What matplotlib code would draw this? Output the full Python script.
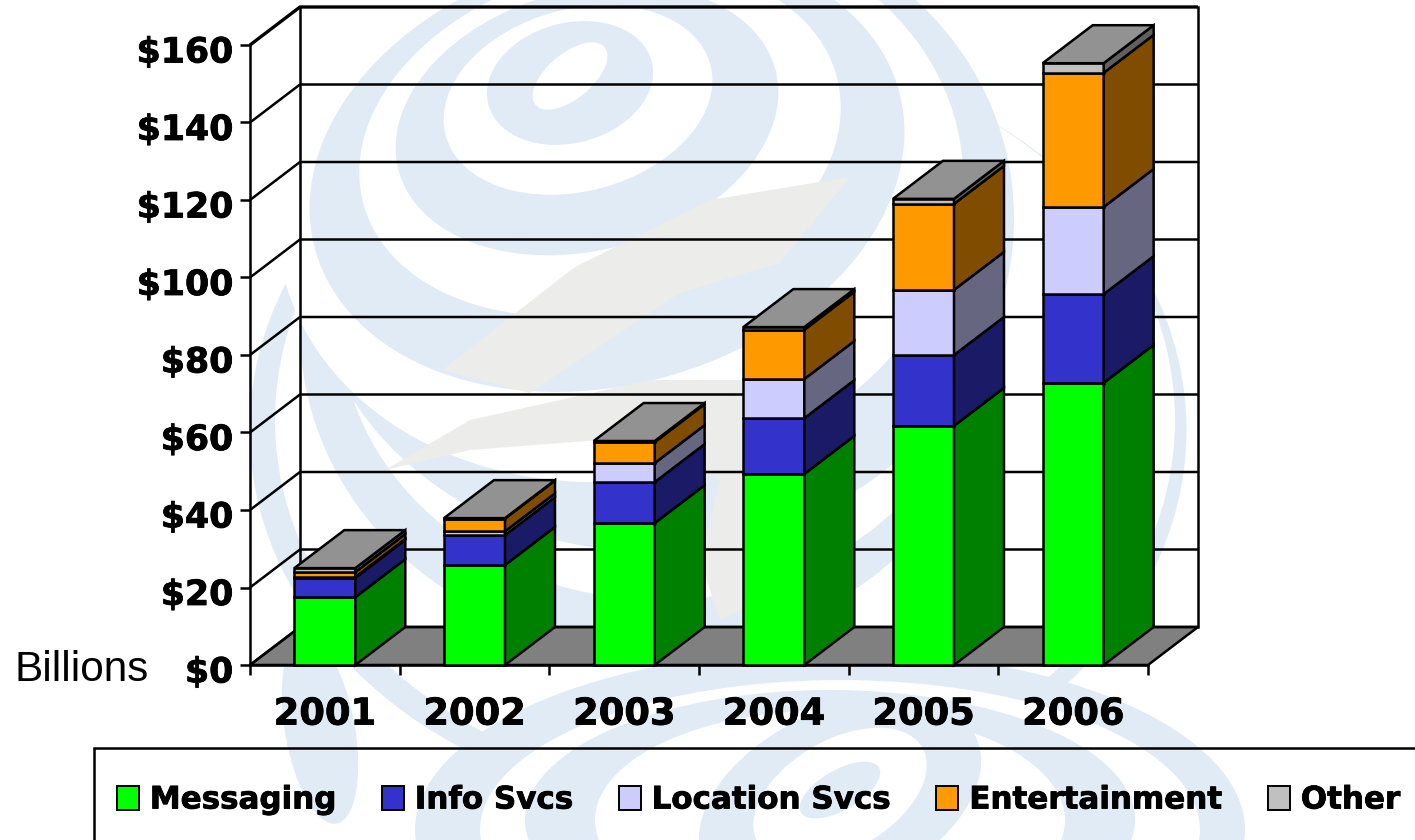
import numpy as np
import matplotlib
matplotlib.use("Agg")
import matplotlib.pyplot as plt
import matplotlib.patheffects as pe
from matplotlib.patches import Ellipse, Polygon, Rectangle
from matplotlib.transforms import ScaledTranslation

# Data ($ billions per layer)
years = ['2001', '2002', '2003', '2004', '2005', '2006']
messaging = [17.5, 25.8, 36.6, 49.3, 61.7, 72.8]
info_svcs = [5.0, 7.7, 10.6, 14.4, 18.3, 22.9]
location_svcs = [0.2, 1.0, 4.9, 10.1, 16.8, 22.5]
entertainment = [1.3, 3.3, 5.4, 12.7, 22.2, 34.6]
other = [1.0, 0.1, 0.3, 0.7, 1.3, 2.5]
series_names = ['Messaging', 'Info Svcs', 'Location Svcs', 'Entertainment', 'Other']
yticks = [0, 20, 40, 60, 80, 100, 120, 140, 160]

front_cols = ['#00FF00', '#3333CC', '#CCCCFF', '#FF9900', '#C0C0C0']
side_cols = ['#008000', '#1A1A66', '#666680', '#804D00', '#606060']
top_col = '#929292'
floor_col = '#808080'
wash = '#E1EBF6'
wash_gray = '#ECECEA'

W, H = 1415, 840
DEPTH_X = 50 / 149.7   # category units
DEPTH_Y = 38 / 3.875   # dollars
BAR_W = 61 / 149.7
LW = 1.8
heavy = [pe.withStroke(linewidth=0.6, foreground='black')]

fig = plt.figure(figsize=(W / 100, H / 100), dpi=100)

# watermark behind the chart, in pixel coordinates
bg = fig.add_axes([0, 0, 1, 1], zorder=0)
bg.set_xlim(0, W)
bg.set_ylim(H, 0)
bg.axis('off')
lower_swirl = [
    (320, 730, 70, 190, 10, wash),
    (830, 830, 830, 360, 0, wash),
    (840, 830, 720, 300, 0, 'white'),
    (830, 820, 610, 260, 0, wash),
    (830, 820, 470, 220, 0, 'white'),
    (840, 800, 300, 180, 25, wash),
    (840, 795, 190, 110, 30, 'white'),
    (840, 790, 90, 40, 30, wash),
]
upper_swirl = [
    (718, 430, 937, 760, 0, wash),
    (725, 420, 900, 740, 0, 'white'),
    (650, 330, 700, 640, 0, wash),
    (660, 320, 640, 560, 0, 'white'),
    (660, 230, 710, 640, 10, wash),
    (620, 200, 690, 560, 10, 'white'),
    (607, 170, 605, 430, 15, wash),
    (600, 140, 490, 340, 15, 'white'),
    (587, 120, 390, 260, 15, wash),
    (578, 100, 274, 182, 15, 'white'),
    (570, 83, 169, 120, 15, wash),
    (570, 76, 90, 45, 40, 'white'),
]
for cx, cy, w, h, ang, col in upper_swirl[:2] + lower_swirl + upper_swirl[2:]:
    bg.add_patch(Ellipse((cx, cy), w, h, angle=-ang, fc=col, ec='none'))
bg.add_patch(Polygon([(442, 370), (575, 267), (710, 200), (850, 177), (780, 263),
                      (680, 293), (530, 393)], fc=wash_gray, ec='none'))
bg.add_patch(Polygon([(385, 470), (470, 420), (650, 380), (740, 380), (850, 420), (850, 560),
                      (720, 620), (700, 560), (720, 480), (600, 440), (470, 450)],
                     fc=wash_gray, ec='none'))
bg.plot([94, 94, W], [H, 748, 748], color='black', lw=1.8, solid_joinstyle='miter')

# main axes = front plane of the 3D box
ax = fig.add_axes([250 / W, 1 - 665 / H, 898 / W, 620 / H], zorder=1)
ax.patch.set_visible(False)
ax.set_xlim(-0.5, 5.5)
ax.set_ylim(0, 160)
for s in ['top', 'right']:
    ax.spines[s].set_visible(False)
for s in ['left', 'bottom']:
    ax.spines[s].set_linewidth(LW)
    ax.spines[s].set_zorder(2.5)

# walls and floor
x0, x1 = -0.5, 5.5
ax.add_patch(Polygon([(x0, 0), (x0 + DEPTH_X, DEPTH_Y), (x1 + DEPTH_X, DEPTH_Y), (x1, 0)],
                     fc=floor_col, ec='black', lw=LW, clip_on=False, zorder=1))
for v in yticks:
    ax.plot([x0, x0 + DEPTH_X, x1 + DEPTH_X], [v, v + DEPTH_Y, v + DEPTH_Y], color='black',
            lw=2.4 if v == 160 else LW, clip_on=False, zorder=1.2, solid_capstyle='butt')
ax.plot([x0 + DEPTH_X] * 2, [DEPTH_Y, 160 + DEPTH_Y], color='black', lw=LW, clip_on=False, zorder=1.2)
ax.plot([x1 + DEPTH_X] * 2, [DEPTH_Y, 160 + DEPTH_Y], color='black', lw=LW, clip_on=False, zorder=1.2)

# stacked 3D bars
layers = np.array([messaging, info_svcs, location_svcs, entertainment, other])
tops = layers.cumsum(axis=0)
bottoms = tops - layers
xs = np.arange(len(years))
for k in range(len(series_names)):
    ax.bar(xs, layers[k], BAR_W, bottom=bottoms[k], color=front_cols[k], edgecolor='black',
           linewidth=LW, zorder=3, clip_on=False)
    for i in xs:
        r = i + BAR_W / 2
        ax.add_patch(Polygon([(r, bottoms[k][i]), (r + DEPTH_X, bottoms[k][i] + DEPTH_Y),
                              (r + DEPTH_X, tops[k][i] + DEPTH_Y), (r, tops[k][i])],
                             fc=side_cols[k], ec='black', lw=LW, clip_on=False, zorder=3))
for i in xs:
    l, r, t = i - BAR_W / 2, i + BAR_W / 2, tops[-1][i]
    ax.add_patch(Polygon([(l, t), (l + DEPTH_X, t + DEPTH_Y), (r + DEPTH_X, t + DEPTH_Y), (r, t)],
                         fc=top_col, ec='black', lw=LW, clip_on=False, zorder=3.5))

# ticks
ax.set_xticks(np.arange(-0.5, 6, 1))
ax.set_xticklabels([])
ax.set_xticks(xs, minor=True)
ax.set_xticklabels(years, minor=True, fontsize=26.5, fontweight='bold', family='DejaVu Sans')
ax.tick_params(axis='x', which='major', length=7, width=LW)
ax.tick_params(axis='x', which='minor', length=0, pad=22)
ax.set_yticks(yticks)
ax.set_yticklabels(['$%d' % v for v in yticks], fontsize=25, fontweight='bold', family='DejaVu Sans')
ax.tick_params(axis='y', length=7, width=LW, pad=5)
down = ScaledTranslation(0, -4 / 100, fig.dpi_scale_trans)
for lab in ax.get_yticklabels():
    lab.set_transform(lab.get_transform() + down)
    lab.set_path_effects(heavy)
for lab in ax.get_xticklabels(minor=True):
    lab.set_path_effects(heavy)

fig.text(14 / W, 1 - 670 / H, 'Billions', fontsize=30.4, family='Liberation Sans', va='center', ha='left')

# legend
handles = [Rectangle((0, 0), 1, 1, fc=front_cols[k], ec='black', lw=1.4) for k in range(5)]
leg = fig.legend(handles, series_names, loc='center left', bbox_to_anchor=(117 / W, 1 - 800 / H),
                 ncol=5, frameon=False, handlelength=0.71, handleheight=0.80, handletextpad=0.35,
                 columnspacing=1.45, borderpad=0, borderaxespad=0,
                 prop={'family': 'DejaVu Sans', 'weight': 'bold', 'size': 22.3})
for t in leg.get_texts():
    t.set_path_effects(heavy)

fig.savefig('out.png', dpi=100)
